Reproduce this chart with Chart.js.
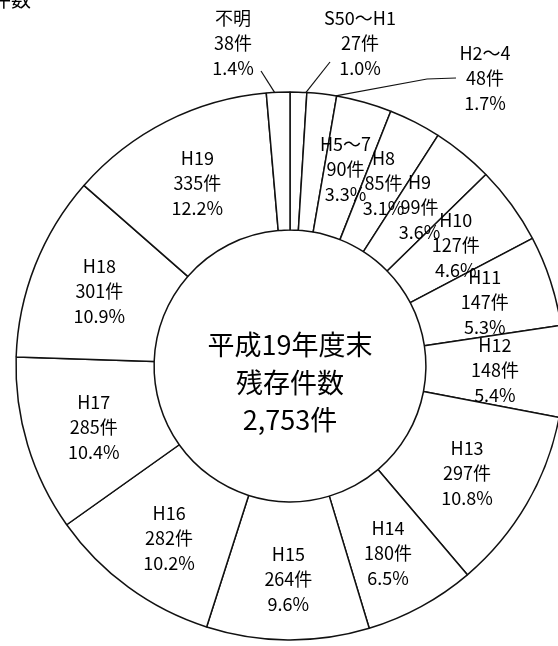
<!DOCTYPE html>
<html>
<head>
<meta charset="utf-8">
<script src="https://cdn.jsdelivr.net/npm/chart.js@4.4.1/dist/chart.umd.min.js"></script>
<style>
  html, body { margin: 0; padding: 0; background: #fff; }
  canvas { display: block; }
</style>
</head>
<body>
<canvas id="mycanvas1" width="558" height="646"></canvas>
<script>
// 年度別 残存件数 (clockwise from 12 o'clock)
var categories = ['S50～H1', 'H2～4', 'H5～7', 'H8', 'H9', 'H10', 'H11', 'H12', 'H13', 'H14', 'H15', 'H16', 'H17', 'H18', 'H19', '不明'];
var counts = [27, 48, 90, 85, 99, 127, 147, 148, 297, 180, 264, 282, 285, 301, 335, 38];
var percents = ['1.0%', '1.7%', '3.3%', '3.1%', '3.6%', '4.6%', '5.3%', '5.4%', '10.8%', '6.5%', '9.6%', '10.2%', '10.4%', '10.9%', '12.2%', '1.4%'];
var centerLines = ['平成19年度末', '残存件数', '2,753件'];

// small slices get their label outside, with a leader line
// (offsets relative to the doughnut centre, at = where on the slice edge the line ends)
var outside = {
  '不明':    { tx: -57, ty: -348, at: 0.35, path: [[-29, -295]] },
  'S50～H1': { tx: 70,  ty: -348, at: 0.95, path: [[40, -304]] },
  'H2～4':   { tx: 195, ty: -313, at: 0.97, path: [[166, -288], [137, -287]] }
};

var labelFont = '18px "Noto Sans CJK JP", sans-serif';
var lineGap = 25;

var sliceLabels = {
  id: 'sliceLabels',
  afterDatasetsDraw: function(chart) {
    var ctx = chart.ctx;
    var meta = chart.getDatasetMeta(0);
    var cx = meta.data[0].x, cy = meta.data[0].y;
    ctx.save();
    ctx.fillStyle = '#000';
    ctx.strokeStyle = '#111';
    ctx.lineWidth = 1.2;
    ctx.textAlign = 'center';
    ctx.textBaseline = 'middle';
    ctx.font = labelFont;

    meta.data.forEach(function(arc, i) {
      var lines = [categories[i], counts[i] + '件', percents[i]];
      var o = outside[categories[i]];
      var x, y;
      if (o) {
        var p = arc.getProps(['startAngle', 'endAngle', 'outerRadius'], true);
        var a = p.startAngle + (p.endAngle - p.startAngle) * o.at;
        ctx.beginPath();
        ctx.moveTo(cx + o.path[0][0], cy + o.path[0][1]);
        for (var k = 1; k < o.path.length; k++) {
          ctx.lineTo(cx + o.path[k][0], cy + o.path[k][1]);
        }
        ctx.lineTo(cx + Math.cos(a) * p.outerRadius, cy + Math.sin(a) * p.outerRadius);
        ctx.stroke();
        x = cx + o.tx;
        y = cy + o.ty;
      } else {
        var c = arc.getCenterPoint();
        var r = (arc.innerRadius + arc.outerRadius) / 2;
        // labels in the lower half sit a little further down
        var drop = 8 * Math.max(0, (c.y - cy) / r);
        x = c.x;
        y = c.y + drop - lineGap;
      }
      lines.forEach(function(t, k) {
        ctx.fillText(t, x, y + k * lineGap);
      });
    });

    // centre text
    ctx.font = '27px "Noto Sans CJK JP", sans-serif';
    centerLines.forEach(function(t, k) {
      ctx.fillText(t, cx, cy - 21 + k * 37.5);
    });

    // title, cut off by the top edge
    ctx.font = '20px "Noto Sans CJK JP", sans-serif';
    ctx.textAlign = 'right';
    ctx.textBaseline = 'alphabetic';
    ctx.fillText('件数', 31, 7);
    ctx.restore();
  }
};

var ctx = document.getElementById('mycanvas1');

var chart = new Chart(ctx, {
  type: 'doughnut',
  data: {
    labels: categories,
    datasets: [{
      data: counts,
      backgroundColor: '#ffffff',
      borderColor: '#111111',
      borderWidth: 1.5,
      clip: false
    }]
  },
  options: {
    responsive: false,
    animation: false,
    radius: 274,
    cutout: '49.6%',
    layout: { padding: { left: 22, right: 0, top: 86, bottom: 0 } },
    plugins: {
      legend: { display: false },
      tooltip: { enabled: false }
    }
  },
  plugins: [sliceLabels]
});
</script>
</body>
</html>
